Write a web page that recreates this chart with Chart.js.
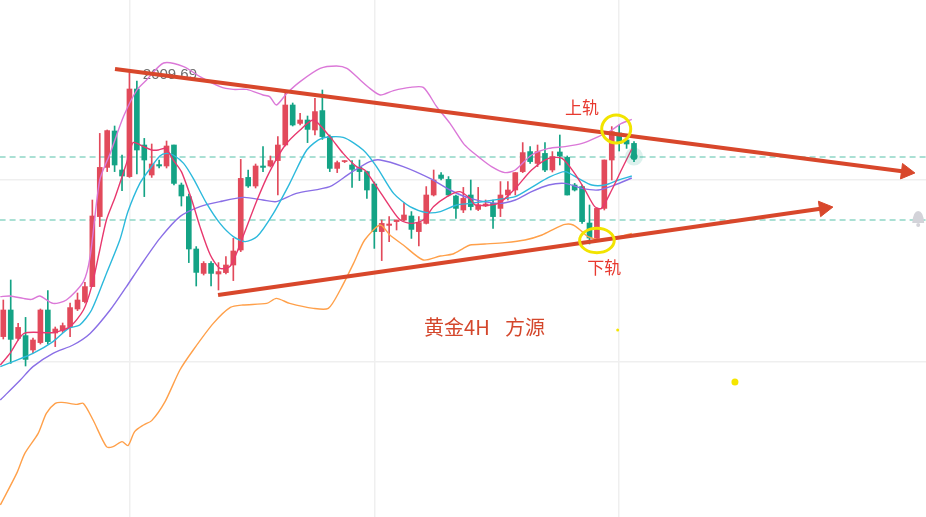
<!DOCTYPE html>
<html>
<head>
<meta charset="utf-8">
<script src="https://cdn.jsdelivr.net/npm/chart.js@4.4.0/dist/chart.umd.min.js"></script>
<style>
  html, body { margin: 0; padding: 0; background: #fff; }
  canvas { display: block; }
</style>
</head>
<body>
<canvas id="chart" width="926" height="517"></canvas>
<script>
// 4H gold candles (index 0..85)
const opens = [1877.7,1891,1876.8,1878.2,1871,1874.7,1891,1879.5,1880.7,1882.7,
  1891.5,1895.2,1902.7,1937.7,1962.3,1980.5,1961,1957.7,2001.5,1973.5,
  1958.5,1963.7,1963,1973.5,1953.5,1947.7,1921.5,1909.3,1914.3,1909,
  1909.7,1913.5,1921,1957.3,1953,1963,1963,1965.7,1973.5,1993.5,
  1984.3,1986,1981,1990.7,1977.7,1961.8,1965.2,1963.5,1962.3,1960.2,
  1954,1930.2,1933.3,1935.2,1936,1938,1930.2,1934.3,1948.5,1958.5,
  1956.3,1948,1941,1948.5,1941.3,1943,1944.3,1941.8,1948.5,1951,
  1960.2,1970.2,1964.3,1969.3,1961,1970,1967.3,1953.5,1952.7,1934.5,
  1926.8,1941.8,1966,1979.5,1976,1974.3];
const highs = [1896,1906,1884.3,1887.3,1877,1891.5,1900.7,1882.5,1884.5,1894.5,
  1899.5,1904.8,1946,1979.3,1981,1983,1968.5,2009.69,2005.5,1976.8,
  1974,1966,1975.5,1973.5,1954.5,1949,1922.7,1915.2,1915.2,1914.7,
  1917.7,1926.8,1966.3,1961,1964,1972.7,1968,1977.7,2000.2,1994.5,
  1989.3,1988,1996.8,2001,1978.5,1965.5,1965.7,1965.7,1966,1960.5,
  1955,1936,1937.7,1936,1944.7,1940.2,1937.7,1952.7,1961,1959.7,
  1957.7,1948.5,1952.3,1956,1952.3,1946,1946,1955.2,1955.2,1959.7,
  1974.7,1972.7,1973.5,1974.7,1970.2,1978.5,1968,1954.3,1953.5,1943.5,
  1942,1966,1982.7,1983.5,1977,1975.2];
const lows = [1876.5,1864.3,1876,1863,1869.5,1874,1874,1872.7,1879.7,1877.7,
  1890.7,1894.5,1902.7,1932.7,1960.2,1960.2,1950.7,1957.3,1959,1947.7,
  1957.3,1962,1962,1953.5,1943,1914.7,1903,1908.5,1903,1901,
  1909,1905.7,1920.2,1952.3,1952,1960.2,1962.5,1948.5,1973,1983,
  1983.5,1974.7,1978.5,1976.3,1960.2,1959.7,1964.7,1952.3,1955.7,1946.8,
  1921.8,1915.7,1925.2,1931,1935.5,1926.8,1923,1934,1948,1956,
  1948,1936.8,1939.7,1941,1940.7,1942.7,1931.8,1937.7,1946,1948.5,
  1959.7,1964.3,1962.7,1960.2,1960,1963.5,1948.5,1950.5,1934.3,1924,
  1925.5,1941,1956,1970.5,1971.8,1965.2];
const closes = [1891,1876.3,1882.3,1866.3,1876,1891,1875.2,1881.5,1883.2,1892.2,
  1896,1902.7,1938,1962.3,1980.7,1963.5,1958,2001.5,1971,1966,
  1964,1963,1973,1954.3,1948,1921.5,1909.8,1914.3,1909.3,1910.2,
  1913.5,1920.5,1956.8,1953,1963,1962.3,1965.7,1973.5,1993.5,1983.5,
  1986,1981.3,1990.2,1977.7,1961.8,1964.7,1965.5,1961.3,1960.2,1951,
  1930.2,1934.3,1934,1936,1938.5,1931.3,1934.7,1948.5,1956,1956.8,
  1948.5,1941.8,1946.8,1942.7,1943.5,1944,1937.7,1948.5,1951,1959.7,
  1969.7,1965.2,1970.2,1961,1967.7,1968,1948.5,1951,1935.2,1927,
  1941.8,1966,1980.2,1974.5,1974,1967.7];

// indicator lines as [candle index, price]
const maFast = [[-0.4,1863.5],[0.9,1869.3],[2.8,1879.3],[6.7,1879.7],[9.0,1882.7],[10.8,1891],
  [11.9,1902.7],[13.0,1921],[13.9,1936],[15.1,1947.7],[16.6,1964.3],[17.5,1974.7],[18.9,1972.7],
  [20.0,1971],[20.9,1971],[21.9,1971.8],[22.9,1966],[24.0,1960.2],[25.4,1946],[26.5,1932.7],
  [27.9,1918.5],[29.2,1911.8],[30.6,1913],[32.3,1927.7],[34.2,1946],[35.9,1960.2],[38.0,1973.5],
  [40.0,1981],[41.8,1986],[44.0,1977.7],[45.8,1969.3],[47.6,1962.7],[48.7,1961],[50.3,1952.7],
  [52.1,1942.7],[53.5,1936],[55.0,1934.3],[56.6,1936],[58.0,1942.7],[59.8,1947.7],[61.5,1950.2],
  [62.9,1946.8],[63.6,1943.5],[66.7,1944.3],[69.0,1951.8],[71.2,1961],[73.5,1966.8],[75.3,1966.8],
  [77.0,1959.3],[78.4,1951],[79.7,1942.7],[80.6,1941.8],[82.0,1951],[83.3,1961],[84.7,1971.5]];
const maMid = [[-0.4,1862.7],[1.3,1865.2],[4.0,1869.3],[6.7,1875.2],[8.8,1881.8],[10.3,1883.5],
  [11.9,1891],[13.9,1909.3],[15.7,1926],[16.8,1940.2],[18.4,1954.3],[19.8,1961.8],[21.1,1968],
  [22.0,1969.3],[22.9,1968.5],[24.3,1964.3],[25.6,1956.8],[27.4,1944.3],[29.2,1934.3],[31.0,1927.7],
  [32.6,1925.2],[34.2,1927.7],[36.4,1939.3],[38.6,1954.3],[40.9,1971],[42.9,1976.8],[45.8,1977.3],
  [48.5,1971],[50.3,1962.7],[52.6,1949.3],[54.8,1942.7],[57.1,1939.7],[58.9,1940.2],[61.1,1943.5],
  [62.9,1944.3],[66.7,1946.3],[69.0,1947.7],[71.2,1952.3],[73.5,1957.3],[75.7,1960.2],[77.5,1956.8],
  [79.3,1953.5],[81.1,1953.5],[82.9,1956],[84.7,1958]];
const maSlow = [[-0.4,1846],[2.3,1856],[4.0,1862.7],[6.7,1869.3],[9.4,1873.5],[11.7,1879.3],
  [14.4,1891],[16.6,1902.7],[18.4,1912.7],[21.1,1926.8],[23.8,1937.7],[26.5,1942.7],[29.2,1945.2],
  [32.4,1947.3],[35.0,1946],[36.8,1945.2],[39.5,1949.3],[44.0,1952.7],[46.7,1959.3],[49.4,1965.2],
  [50.8,1966],[53.9,1962.7],[57.5,1956.8],[60.2,1951],[62.9,1946.8],[66.7,1944.3],[69.0,1946],
  [71.2,1950.2],[73.5,1953.5],[75.7,1954.3],[78.0,1951.8],[80.2,1951],[82.4,1953.5],[84.7,1957]];
const bollUpper = [[-0.4,1897.7],[0.9,1898],[2.7,1896.8],[3.8,1896.3],[4.9,1898],[6.7,1894.3],
  [8.5,1896],[10.8,1905.2],[11.7,1917.7],[13.0,1956],[14.4,1969.3],[16.2,1987.7],[18.0,2001],
  [19.3,2006],[21.6,2014.5],[24.3,2012.7],[26.5,2007.7],[29.2,2002.7],[31.0,2001.3],[32.8,2001.3],
  [35.0,1998.5],[35.9,1997.7],[36.8,1993.5],[38.2,1999.3],[40.0,2005.2],[42.7,2011.8],[44.9,2013],
  [46.3,2011.8],[48.1,2006],[49.4,2001.8],[50.8,1998.5],[52.6,2000.7],[54.8,2002.3],[56.6,2002.3],
  [58.4,1992.7],[60.2,1984.3],[62.0,1974.3],[62.9,1971],[64.0,1967.7],[65.8,1962.7],[67.6,1959.7],
  [69.0,1961],[71.2,1968.5],[73.5,1971.8],[75.7,1972.7],[78.0,1974.3],[80.2,1977.7],[82.0,1981],
  [83.3,1984.3],[84.7,1986.3]];
const bollLower = [[-0.4,1793.5],[1.8,1809.3],[2.9,1819.3],[4.7,1829.3],[5.8,1839.3],[7.0,1844.3],
  [7.9,1844.8],[9.9,1843.8],[10.8,1844.3],[12.1,1836],[13.9,1822.7],[14.8,1822.7],[16.0,1825.2],
  [16.8,1823.2],[17.7,1830.2],[18.9,1833.5],[20.0,1835.7],[21.8,1845.2],[23.8,1861],[25.6,1871],
  [28.3,1884.3],[30.6,1892.3],[32.3,1893.5],[35.5,1894.3],[36.8,1896.8],[38.6,1894.3],[41.8,1891.8],
  [43.8,1891.8],[45.4,1901],[47.2,1914.3],[48.7,1926],[50.8,1933.5],[52.1,1928.5],[53.9,1923.5],
  [56.6,1916],[58.9,1918],[60.6,1919],[62.0,1921.8],[62.9,1923.5],[64.9,1924],[67.6,1924.7],
  [70.3,1926],[72.6,1928.5],[74.4,1931.8],[75.7,1933.8],[76.8,1933.5],[78.0,1930.2],[78.8,1927.7],
  [80.4,1926],[82.4,1927],[84.7,1929.3]];

// drawn trend lines (start, arrow end)
const upperTrend = [[15.05, 2011.5], [121.65, 1960.1]];
const lowerTrend = [[28.94, 1898.5], [110.6, 1941.85]];
const priceLines = [1967.5, 1936];
const gridX = [17, 50, 83];
const gridY = [1865, 1956];

// annotations [index, price]
const highLabel = { text: '2009.69', at: [18.8, 2008.5] };
const labels = [
  { text: '上轨', at: [78.0, 1992], align: 'center', size: 17, color: '#e8392f' },
  { text: '下轨', at: [81.0, 1912], align: 'center', size: 17, color: '#e8392f' },
  { text: '黄金4H', at: [56.7, 1882.5], align: 'left', size: 20, color: '#d4472c' },
  { text: '方源', at: [67.6, 1882.5], align: 'left', size: 20, color: '#d4472c' }
];
const rings = [[82.6, 1981.5, 14.5, 14], [80.0, 1925.75, 17.3, 12.2]];
const dots = [[98.6, 1855, 3.5], [82.8, 1881, 1.5]];
const bellAt = [123.3, 1937];

const RED = '#e24a5b', GREEN = '#14a385', TREND = '#d8472b';
const up = closes.map((c, i) => c >= opens[i]);
const candleColors = up.map(u => u ? RED : GREEN);
const pts = arr => arr.map(p => ({ x: p[0], y: p[1] }));

function lineSet(data, color, order) {
  return { type: 'line', data: pts(data), borderColor: color, borderWidth: 1.4,
    pointRadius: 0, tension: 0.25, order: order };
}

const decorations = {
  id: 'decorations',
  beforeDraw(chart) {
    const ctx = chart.ctx;
    ctx.save();
    ctx.fillStyle = '#fff';
    ctx.fillRect(0, 0, chart.width, chart.height);
    ctx.restore();
  },
  beforeDatasetsDraw(chart) {
    const { ctx, scales: { x, y } } = chart;
    ctx.save();
    ctx.font = '15px "Liberation Sans", Arial, sans-serif';
    ctx.fillStyle = '#6e6e6e';
    ctx.textBaseline = 'middle';
    ctx.fillText(highLabel.text, x.getPixelForValue(highLabel.at[0]), y.getPixelForValue(highLabel.at[1]));
    ctx.restore();
  },
  afterDatasetsDraw(chart) {
    const { ctx, scales: { x, y } } = chart;
    ctx.save();
    // yellow rings
    ctx.strokeStyle = '#f2e400';
    ctx.lineWidth = 3;
    rings.forEach(r => {
      ctx.beginPath();
      ctx.ellipse(x.getPixelForValue(r[0]), y.getPixelForValue(r[1]), r[2], r[3], 0, 0, Math.PI * 2);
      ctx.stroke();
    });
    // texts
    ctx.textBaseline = 'middle';
    labels.forEach(l => {
      ctx.font = l.size + 'px "Noto Sans CJK SC", sans-serif';
      ctx.fillStyle = l.color;
      ctx.textAlign = l.align;
      ctx.fillText(l.text, x.getPixelForValue(l.at[0]), y.getPixelForValue(l.at[1]));
    });
    // alert bell
    const bx = x.getPixelForValue(bellAt[0]), by = y.getPixelForValue(bellAt[1]);
    ctx.fillStyle = '#d3d3d9';
    ctx.beginPath();
    ctx.moveTo(bx - 6, by + 5);
    ctx.quadraticCurveTo(bx - 5, by - 7, bx, by - 7);
    ctx.quadraticCurveTo(bx + 5, by - 7, bx + 6, by + 5);
    ctx.closePath();
    ctx.fill();
    ctx.beginPath();
    ctx.arc(bx, by + 7, 2, 0, Math.PI * 2);
    ctx.fill();
    ctx.restore();
  }
};

new Chart(document.getElementById('chart'), {
  type: 'bar',
  data: {
    datasets: [
      { type: 'line', data: pts(upperTrend), borderColor: TREND, borderWidth: 4,
        pointStyle: 'triangle', pointRadius: [0, 9], pointRotation: [0, 97.4],
        pointBackgroundColor: TREND, pointBorderColor: TREND, pointBorderWidth: 1, order: 0 },
      { type: 'line', data: pts(lowerTrend), borderColor: TREND, borderWidth: 4,
        pointStyle: 'triangle', pointRadius: [0, 9], pointRotation: [0, 81.9],
        pointBackgroundColor: TREND, pointBorderColor: TREND, pointBorderWidth: 1, order: 0 },
      { type: 'scatter', data: pts(dots), pointRadius: dots.map(d => d[2]),
        backgroundColor: '#f5e600', borderWidth: 0, order: 0 },
      { type: 'scatter', data: [{ x: 85, y: closes[85] }], pointRadius: 9,
        backgroundColor: 'rgba(20,163,133,0.15)', borderWidth: 0, order: 0 },
      { type: 'scatter', data: [{ x: 85, y: closes[85] }], pointRadius: 3.5,
        backgroundColor: GREEN, borderWidth: 0, order: 0 },
      lineSet(maFast, '#e8386e', 1),
      lineSet(maMid, '#2cb9dc', 1),
      lineSet(maSlow, '#8a6fe6', 1),
      lineSet(bollUpper, '#db78d8', 1),
      lineSet(bollLower, '#ffa04a', 1),
      { data: opens.map((o, i) => ({ x: i, y: [o, closes[i]] })), backgroundColor: candleColors,
        barThickness: 5, minBarLength: 1, grouped: false, order: 3 },
      { data: opens.map((o, i) => ({ x: i, y: [lows[i], highs[i]] })), backgroundColor: candleColors,
        barThickness: 1, grouped: false, order: 4 },
      ...priceLines.map(p => ({ type: 'line', data: [{ x: -0.5, y: p }, { x: 124.5, y: p }],
        borderColor: '#8fd6c6', borderWidth: 1.6, borderDash: [6, 4], pointRadius: 0, order: 5 }))
    ]
  },
  options: {
    responsive: false,
    animation: false,
    layout: { padding: 0, autoPadding: false },
    plugins: { legend: { display: false }, tooltip: { enabled: false } },
    scales: {
      x: {
        type: 'linear', min: -0.445, max: 124.35, offset: false,
        ticks: { display: false },
        grid: { color: '#efefef', lineWidth: 1.5, drawTicks: false, offset: false },
        border: { display: false },
        afterBuildTicks: s => { s.ticks = gridX.map(v => ({ value: v })); }
      },
      y: {
        min: 1787.5, max: 2046,
        ticks: { display: false },
        grid: { color: '#efefef', lineWidth: 1.5, drawTicks: false },
        border: { display: false },
        afterBuildTicks: s => { s.ticks = gridY.map(v => ({ value: v })); }
      }
    }
  },
  plugins: [decorations]
});
</script>
</body>
</html>
